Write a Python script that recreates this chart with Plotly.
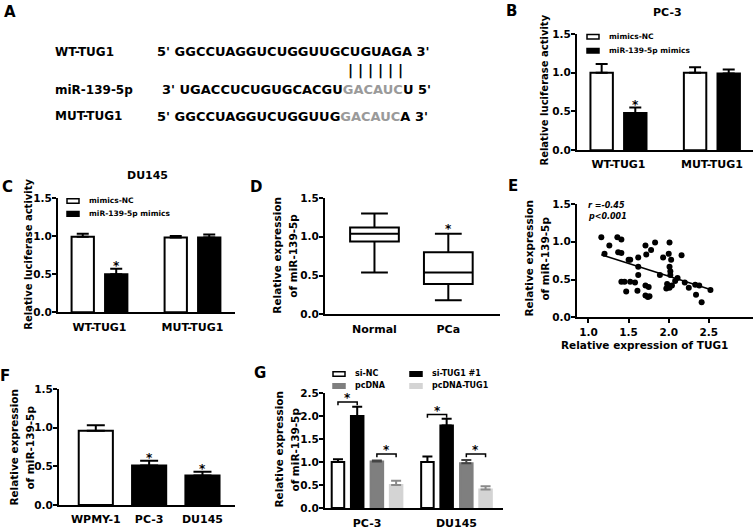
import numpy as np
import plotly.graph_objects as go

W, H = 753, 530
FONT = "DejaVu Sans"

# ---------------- data ----------------
# A: sequences
seq_labels = ["WT-TUG1", "miR-139-5p", "MUT-TUG1"]
wt_seq = "5' GGCCUAGGUCUGGUUGCUGUAGA 3'"
mir_seq = ("3' UGACCUCUGUGCACGU", "GACAUC", "U 5'")
mut_seq = ("5' GGCCUAGGUCUGGUUG", "GACAUC", "A 3'")

# B / C: luciferase activity
luc_groups = ["WT-TUG1", "MUT-TUG1"]
pc3_nc = [1.00, 1.00]
pc3_nc_err = [0.11, 0.07]
pc3_mim = [0.48, 0.99]
pc3_mim_err = [0.07, 0.05]
du_nc = [0.99, 0.98]
du_nc_err = [0.04, 0.02]
du_mim = [0.50, 0.98]
du_mim_err = [0.07, 0.04]

# D: box plot summary
box_groups = ["Normal", "PCa"]
box_min = [0.54, 0.18]
box_q1 = [0.94, 0.39]
box_med = [1.04, 0.54]
box_q3 = [1.12, 0.80]
box_max = [1.30, 1.04]

# E: correlation
tug1_x = [1.16, 1.20, 1.26, 1.36, 1.41, 1.37, 1.41, 1.50, 1.52, 1.62, 1.71, 1.72, 1.78, 1.83,
          1.62, 1.62, 1.41, 1.45, 1.52, 1.58, 1.47, 1.61, 1.71, 1.75, 1.71, 1.74, 1.76, 1.89,
          1.93, 2.00, 2.01, 2.03, 2.01, 2.02, 2.02, 1.98, 2.01, 1.97, 2.04, 2.08, 2.11, 2.16,
          2.20, 2.25, 2.33, 2.38, 2.34, 2.41, 2.52]
mir_y = [1.06, 0.84, 0.95, 1.06, 1.03, 0.86, 0.85, 0.76, 0.76, 0.79, 0.95, 0.83, 0.89, 0.99,
         0.67, 0.56, 0.47, 0.47, 0.47, 0.46, 0.34, 0.35, 0.42, 0.40, 0.29, 0.27, 0.28, 0.56,
         0.79, 0.84, 0.99, 0.76, 0.67, 0.61, 0.56, 0.44, 0.39, 0.38, 0.42, 0.48, 0.52, 0.82,
         0.46, 0.39, 0.43, 0.42, 0.30, 0.20, 0.36]
e_ticks = [1.0, 1.5, 2.0, 2.5]

# F: cell lines
cell_lines = ["WPMY-1", "PC-3", "DU145"]
cell_expr = [0.96, 0.51, 0.38]
cell_err = [0.07, 0.06, 0.05]
cell_star = [False, True, True]

# G: knockdown / overexpression
g_groups = ["PC-3", "DU145"]
g_series = ["si-NC", "si-TUG1 #1", "pcDNA", "pcDNA-TUG1"]
g_vals = {"si-NC": [1.00, 1.00], "si-TUG1 #1": [2.00, 1.79],
          "pcDNA": [1.01, 0.97], "pcDNA-TUG1": [0.50, 0.40]}
g_err = {"si-NC": [0.06, 0.12], "si-TUG1 #1": [0.20, 0.15],
         "pcDNA": [0.02, 0.07], "pcDNA-TUG1": [0.09, 0.07]}
g_bracket_si = [2.30, 2.03]
g_bracket_pc = [1.17, 1.17]

# ---------------- helpers ----------------
def Y(py):
    # the captured page comes out slightly squeezed vertically, compensate
    return (py - 6) / 0.977

def xdom(a, b):
    return [a / W, b / W]

def ydom(top, bot):
    return [1 - Y(bot) / H, 1 - Y(top) / H]

AX = dict(showline=True, linecolor="black", linewidth=2, showgrid=False, zeroline=False,
          tickcolor="black", tickwidth=2, ticklen=4, ticks="outside",
          tickfont=dict(size=10.5), fixedrange=True)

def val_axis(top, bot, anchor, rng, dtick):
    return dict(domain=ydom(top, bot), anchor=anchor, range=rng, dtick=dtick, tick0=0,
                tickformat=".1f", ticklabelstandoff=-2, **AX)

def cat_axis(a, b, anchor, rng, size=11, standoff=3):
    return dict(domain=xdom(a, b), anchor=anchor, type="category", range=rng,
                showline=True, linecolor="black", linewidth=2, showgrid=False,
                zeroline=False, ticks="", tickfont=dict(size=size),
                ticklabelstandoff=standoff, fixedrange=True)

ann = []
shapes = []

def txt(x, y, s, size, xanchor="center", angle=0, color="black", style="normal"):
    ann.append(dict(x=x / W, y=1 - Y(y) / H, xref="paper", yref="paper", text=s,
                    showarrow=False, xanchor=xanchor, yanchor="middle", textangle=angle,
                    font=dict(family=FONT, size=size, color=color, weight="bold", style=style)))

def star(ax, x, y, shift=-6):
    ann.append(dict(x=x, y=y, xref="x" + ax, yref="y" + ax, text="*", showarrow=False,
                    yanchor="bottom", yshift=shift,
                    font=dict(family=FONT, size=12, color="black", weight="bold")))

def leg(x, y, label, fill, edge, w=12, h=4.6, size=7.5):
    shapes.append(dict(type="rect", xref="paper", yref="paper", x0=x / W, x1=(x + w) / W,
                       y0=1 - Y(y + h / 2) / H, y1=1 - Y(y - h / 2) / H,
                       fillcolor=fill, line=dict(color=edge, width=1.5)))
    txt(x + w + 8, y, label, size, xanchor="left")

def bar(ax, x, y, err, fill, edge, off, width, errcolor="black", cap=6):
    return go.Bar(x=x, y=y, xaxis="x" + ax, yaxis="y" + ax, offset=off, width=width,
                  marker=dict(color=fill, line=dict(color=edge, width=2)),
                  error_y=dict(type="data", array=err, arrayminus=[0] * len(err),
                               symmetric=False, color=errcolor, thickness=2, width=cap),
                  showlegend=False, hoverinfo="skip")

fig = go.Figure()

# ---------------- B & C ----------------
for ax, nc, nce, mim, mime in [("", pc3_nc, pc3_nc_err, pc3_mim, pc3_mim_err),
                               ("2", du_nc, du_nc_err, du_mim, du_mim_err)]:
    fig.add_trace(bar(ax, luc_groups, nc, nce, "white", "black", -0.30, 0.24))
    fig.add_trace(bar(ax, luc_groups, mim, mime, "black", "black", 0.06, 0.24))
    star(ax, 0.18, mim[0] + mime[0])

# ---------------- D ----------------
fig.add_trace(go.Box(x=box_groups, q1=box_q1, median=box_med, q3=box_q3,
                     lowerfence=box_min, upperfence=box_max, xaxis="x3", yaxis="y3",
                     width=0.66, whiskerwidth=0.55, fillcolor="white",
                     line=dict(color="black", width=2), boxpoints=False,
                     showlegend=False, hoverinfo="skip"))
star("3", 1, box_max[1], shift=-4)

# ---------------- E ----------------
fig.add_trace(go.Scatter(x=tug1_x, y=mir_y, xaxis="x4", yaxis="y4", mode="markers",
                         marker=dict(size=6, color="black"), showlegend=False))
k, b0 = np.polyfit(tug1_x, mir_y, 1)
fx = np.array([min(tug1_x), max(tug1_x)])
fig.add_trace(go.Scatter(x=fx, y=k * fx + b0, xaxis="x4", yaxis="y4", mode="lines",
                         line=dict(color="black", width=1.5), showlegend=False))

# ---------------- F ----------------
fig.add_trace(bar("5", cell_lines, cell_expr, cell_err,
                  ["white", "black", "black"], "black", -0.32, 0.64, cap=9))
for i, s in enumerate(cell_star):
    if s:
        star("5", i, cell_expr[i] + cell_err[i])

# ---------------- G ----------------
g_style = {"si-NC": ("white", "black", "black"),
           "si-TUG1 #1": ("black", "black", "black"),
           "pcDNA": ("#7f7f7f", "#7f7f7f", "#444444"),
           "pcDNA-TUG1": ("#d4d4d4", "#d4d4d4", "#8a8a8a")}
g_pos = [-0.325, -0.11, 0.11, 0.325]
for s, p in zip(g_series, g_pos):
    f, e, ec = g_style[s]
    fig.add_trace(bar("6", g_groups, g_vals[s], g_err[s], f, e, p - 0.07, 0.14, ec, cap=5))
for i in range(len(g_groups)):
    for (a, c), yb in [((0, 1), g_bracket_si[i]), ((2, 3), g_bracket_pc[i])]:
        x0, x1 = i + g_pos[a], i + g_pos[c]
        shapes.append(dict(type="path", xref="x6", yref="y6",
                           path=f"M{x0},{yb - 0.07} L{x0},{yb} L{x1},{yb} L{x1},{yb - 0.07}",
                           line=dict(color="black", width=1.5)))
        star("6", (x0 + x1) / 2, yb, shift=-5)

# ---------------- axes ----------------
lay = dict(
    xaxis=cat_axis(577, 753, "y", [-0.444, 1.44]),
    yaxis=val_axis(34, 151, "x", [0, 1.5], 0.5),
    xaxis2=cat_axis(58, 235, "y2", [-0.446, 1.457]),
    yaxis2=val_axis(199, 314, "x2", [0, 1.5], 0.5),
    xaxis3=cat_axis(325, 500, "y3", [-0.67, 1.70]),
    yaxis3=val_axis(199, 316, "x3", [0, 1.5], 0.5),
    xaxis4=dict(domain=xdom(577, 753), anchor="y4", range=[0.857, 3.05],
                tickvals=e_ticks, tickformat=".1f", **AX),
    yaxis4=val_axis(205, 319, "x4", [0, 1.5], 0.5),
    xaxis5=cat_axis(59, 235, "y5", [-0.69, 2.61]),
    yaxis5=val_axis(391, 507.7, "x5", [0, 1.5], 0.5),
    xaxis6=cat_axis(325, 503, "y6", [-0.47, 1.52], standoff=4),
    yaxis6=val_axis(395, 510.7, "x6", [0, 2.5], 0.5),
)

# ---------------- text ----------------
for lbl, x, y in [("A", 10, 12), ("B", 512, 11), ("C", 7, 188), ("D", 256, 188),
                  ("E", 513, 187), ("F", 5, 378), ("G", 260, 375)]:
    txt(x, y, lbl, 15)

# panel A
for lbl, y in zip(seq_labels, [52, 90, 117]):
    txt(53, y, lbl, 12, xanchor="left")
txt(155, 52, wt_seq, 13, xanchor="left")
gray = '<span style="color:#9a9a9a">%s</span>'
txt(433, 90, mir_seq[0] + gray % mir_seq[1] + mir_seq[2], 13, xanchor="right")
txt(155, 117, mut_seq[0] + gray % mut_seq[1] + mut_seq[2], 13, xanchor="left")
txt(375, 71, "| | | | | |", 14)

txt(667, 13, "PC-3", 11)
txt(147, 176, "DU145", 11)
txt(545, 91, "Relative luciferase activity", 10, angle=-90)
txt(29, 256, "Relative luciferase activity", 10, angle=-90)
for xc, yc in [(277, 257), (529, 260), (14, 450), (279, 452)]:
    txt(xc, yc, "Relative expression", 10.5, angle=-90)
    txt(xc + 16, yc, "of miR-139-5p", 10.5, angle=-90)
txt(644, 347, "Relative expression of TUG1", 10.5)
txt(586, 207, "r =-0.45", 8, xanchor="left", style="italic")
txt(586, 218, "p<0.001", 8, xanchor="left", style="italic")

# legends
leg(587, 37, "mimics-NC", "white", "black")
leg(587, 51, "miR-139-5p mimics", "black", "black")
leg(67, 202, "mimics-NC", "white", "black")
leg(67, 215, "miR-139-5p mimics", "black", "black")
for s, (x, y) in zip(g_series, [(333, 376), (410, 376), (333, 388), (410, 388)]):
    f, e, _ = g_style[s]
    leg(x, y, s, f, e, size=8)

fig.update_layout(width=W, height=H, margin=dict(l=0, r=0, t=0, b=0),
                  paper_bgcolor="white", plot_bgcolor="white", showlegend=False,
                  font=dict(family=FONT, size=10.5, color="black", weight="bold"),
                  barmode="group", annotations=ann, shapes=shapes, **lay)

fig.write_html("out.html", config={"displayModeBar": False},
               post_script="document.body.style.margin='0';")
